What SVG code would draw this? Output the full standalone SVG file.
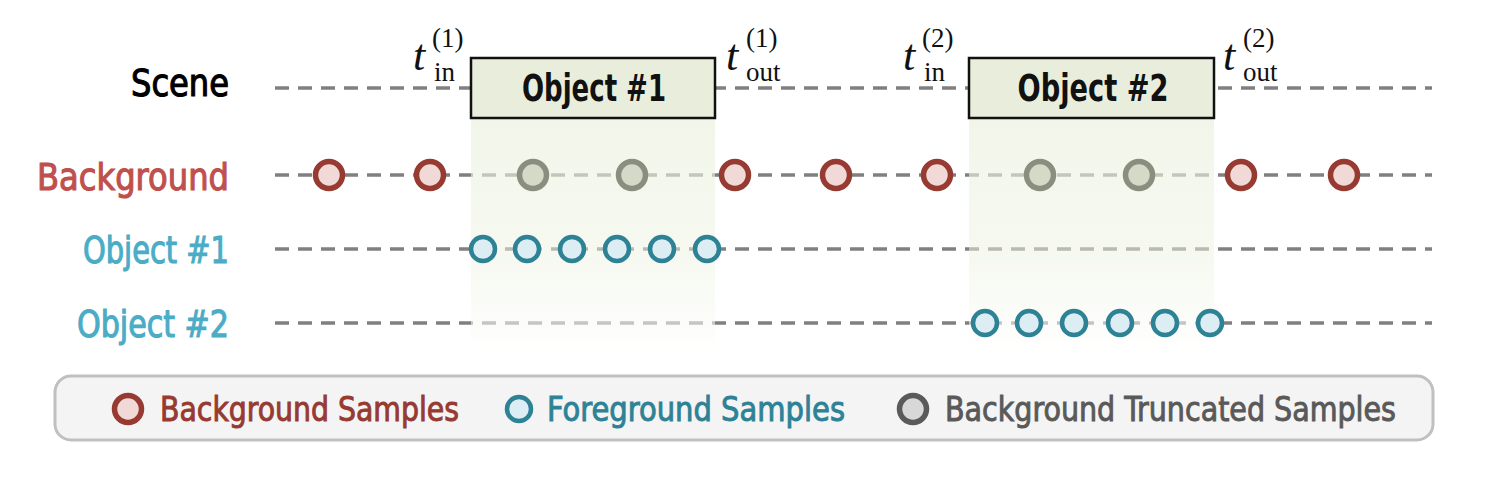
<svg xmlns="http://www.w3.org/2000/svg" width="1487" height="484" viewBox="0 0 1487 484">
<style>
.lbl{font-family:"DejaVu Sans Condensed","DejaVu Sans",sans-serif;font-stretch:condensed;font-size:38px;stroke-width:1.1px}
.box{fill:#e9eedc;stroke:#111;stroke-width:2.5}
.boxt{font-family:"DejaVu Sans Condensed","DejaVu Sans",sans-serif;font-stretch:condensed;font-weight:bold;font-size:37px;fill:#111;text-anchor:middle}
.dash{stroke:#808080;stroke-width:3.5;stroke-dasharray:14 9;fill:none}
.bg{fill:#f1d9d7;stroke:#963a32;stroke-width:5.5}
.fg{fill:#dcedf3;stroke:#2e8296;stroke-width:4.5}
.tr{fill:#d5d9c7;stroke:#8a8e7e;stroke-width:5.5}
.trl{fill:#d8d8d8;stroke:#5a5a5a;stroke-width:5.5}
.tt{font-family:"Liberation Serif",serif;font-style:italic;font-size:44px;fill:#111}
.sc{font-family:"Liberation Serif",serif;font-size:27px;fill:#111}
.leg{font-family:"DejaVu Sans Condensed","DejaVu Sans",sans-serif;font-stretch:condensed;font-size:34px;stroke-width:0.9px}
</style>
<defs>
<linearGradient id="shade" x1="0" y1="0" x2="0" y2="1">
<stop offset="0" stop-color="#ecf1df" stop-opacity="0.7"/>
<stop offset="0.6" stop-color="#eef3e3" stop-opacity="0.5"/>
<stop offset="1" stop-color="#ffffff" stop-opacity="0.6"/>
</linearGradient>
</defs>
<rect width="1487" height="484" fill="#fff"/>
<g id="connectors">
<line class="dash" x1="275" y1="88" x2="1432" y2="88"/>
<line class="dash" x1="275" y1="175" x2="1432" y2="175"/>
<line class="dash" x1="275" y1="249" x2="1432" y2="249"/>
<line class="dash" x1="275" y1="323" x2="1432" y2="323"/>
</g>
<g id="shading">
<rect x="471" y="118" width="244" height="234" fill="url(#shade)"/>
<rect x="969" y="118" width="245" height="234" fill="url(#shade)"/>
</g>
<g id="labels">
<text class="lbl" x="229" y="96" text-anchor="end" fill="#000" stroke="#000" textLength="98" lengthAdjust="spacingAndGlyphs">Scene</text>
<text class="lbl" x="229" y="190" text-anchor="end" fill="#c0504d" stroke="#c0504d" textLength="192" lengthAdjust="spacingAndGlyphs">Background</text>
<text class="lbl" x="229" y="263" text-anchor="end" fill="#4bacc6" stroke="#4bacc6" textLength="146" lengthAdjust="spacingAndGlyphs">Object #1</text>
<text class="lbl" x="229" y="337" text-anchor="end" fill="#4bacc6" stroke="#4bacc6" textLength="152" lengthAdjust="spacingAndGlyphs">Object #2</text>
</g>
<g id="object1">
<rect class="box" x="471" y="58" width="244" height="60"/>
<text class="boxt" x="594" y="101" textLength="144" lengthAdjust="spacingAndGlyphs">Object #1</text>
</g>
<g id="object2">
<rect class="box" x="969" y="58" width="245" height="60"/>
<text class="boxt" x="1093" y="101" textLength="151" lengthAdjust="spacingAndGlyphs">Object #2</text>
</g>
<g id="times">
<text class="tt" x="413" y="70">t</text><text class="sc" x="432" y="47">(1)</text><text class="sc" x="434" y="81">in</text>
<text class="tt" x="726" y="70">t</text><text class="sc" x="746" y="47">(1)</text><text class="sc" x="746" y="81">out</text>
<text class="tt" x="903" y="70">t</text><text class="sc" x="922" y="47">(2)</text><text class="sc" x="924" y="81">in</text>
<text class="tt" x="1223" y="70">t</text><text class="sc" x="1243" y="47">(2)</text><text class="sc" x="1243" y="81">out</text>
</g>
<g id="background-samples">
<circle class="bg" cx="329" cy="175" r="13.5"/>
<circle class="bg" cx="430" cy="175" r="13.5"/>
<circle class="tr" cx="533" cy="175" r="13.5"/>
<circle class="tr" cx="632" cy="175" r="13.5"/>
<circle class="bg" cx="735" cy="175" r="13.5"/>
<circle class="bg" cx="836" cy="175" r="13.5"/>
<circle class="bg" cx="937" cy="175" r="13.5"/>
<circle class="tr" cx="1040" cy="175" r="13.5"/>
<circle class="tr" cx="1139" cy="175" r="13.5"/>
<circle class="bg" cx="1241" cy="175" r="13.5"/>
<circle class="bg" cx="1344" cy="175" r="13.5"/>
</g>
<g id="object1-samples">
<circle class="fg" cx="483" cy="249" r="12"/>
<circle class="fg" cx="527" cy="249" r="12"/>
<circle class="fg" cx="572" cy="249" r="12"/>
<circle class="fg" cx="617" cy="249" r="12"/>
<circle class="fg" cx="662" cy="249" r="12"/>
<circle class="fg" cx="707" cy="249" r="12"/>
</g>
<g id="object2-samples">
<circle class="fg" cx="985" cy="323" r="12"/>
<circle class="fg" cx="1029" cy="323" r="12"/>
<circle class="fg" cx="1074" cy="323" r="12"/>
<circle class="fg" cx="1120" cy="323" r="12"/>
<circle class="fg" cx="1165" cy="323" r="12"/>
<circle class="fg" cx="1210" cy="323" r="12"/>
</g>
<g id="legend">
<rect x="55" y="376" width="1378" height="64" rx="16" fill="#f4f4f4" stroke="#c0c0c0" stroke-width="3"/>
<circle class="bg" cx="128" cy="409" r="13.5"/>
<text class="leg" x="160" y="421" fill="#963a32" stroke="#963a32" textLength="299" lengthAdjust="spacingAndGlyphs">Background Samples</text>
<circle class="fg" cx="519" cy="409" r="12"/>
<text class="leg" x="547" y="421" fill="#2e8296" stroke="#2e8296" textLength="298" lengthAdjust="spacingAndGlyphs">Foreground Samples</text>
<circle class="trl" cx="913" cy="409" r="13.5"/>
<text class="leg" x="945" y="421" fill="#595959" stroke="#595959" textLength="451" lengthAdjust="spacingAndGlyphs">Background Truncated Samples</text>
</g>
</svg>
